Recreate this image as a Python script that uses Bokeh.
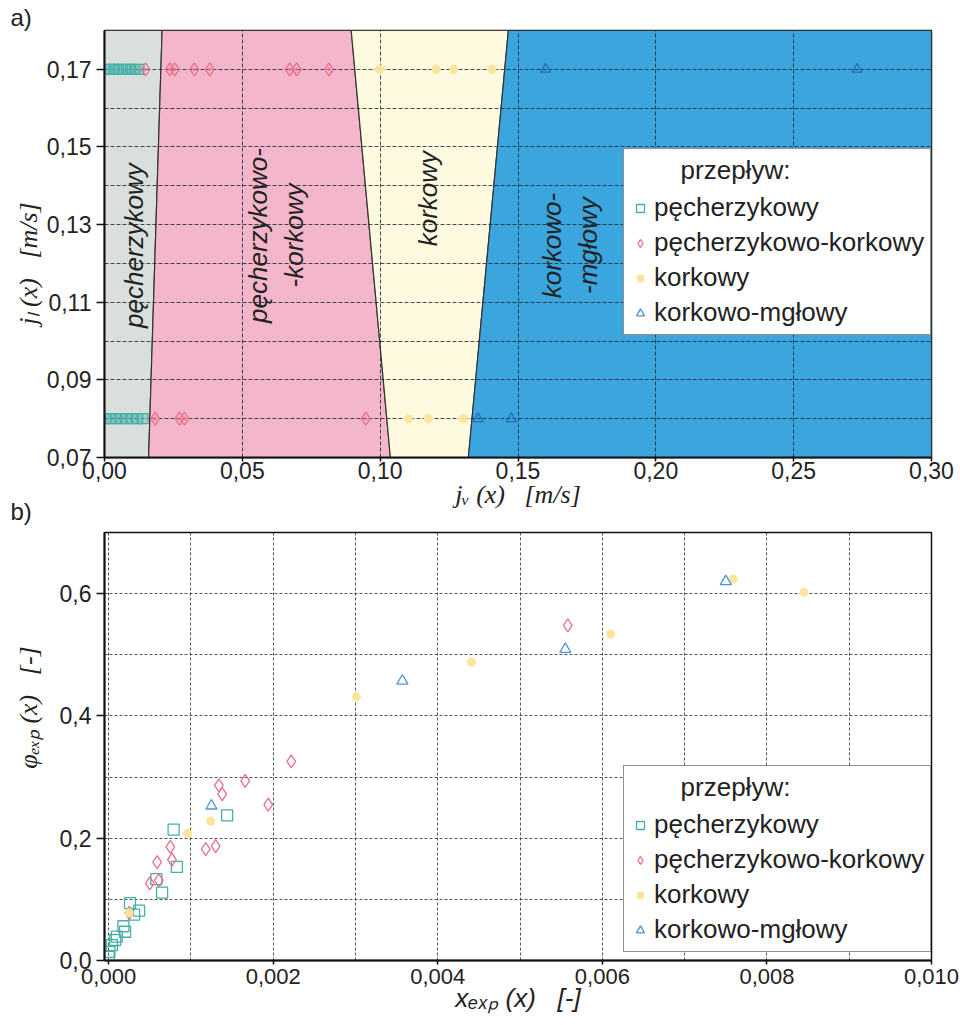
import math
import numpy as np
from bokeh.plotting import figure
from bokeh.models import (Range1d, FixedTicker, CustomJSTickFormatter, Label,
                          Legend, LegendItem, Title)
from bokeh.layouts import column
from bokeh.embed import file_html
from bokeh.resources import INLINE

# ---------------- panel a) data ----------------
a_x_ticks = [0.00, 0.05, 0.10, 0.15, 0.20, 0.25, 0.30]
a_y_ticks = [0.07, 0.09, 0.11, 0.13, 0.15, 0.17]
a_y_minor = [0.08, 0.10, 0.12, 0.14, 0.16, 0.18]
a_x_range = [0.0, 0.30]
a_y_range = [0.07, 0.18]

region_names = ["pęcherzykowy", "pęcherzykowo-\n-korkowy", "korkowy", "korkowo-\n-mgłowy"]
region_colors = ["#d9dfdc", "#f4b6ca", "#fdfadf", "#3ba5dd"]
boundary_x_bottom = [0.0160, 0.1037, 0.1320]   # at j_l = 0.07
boundary_x_top = [0.0209, 0.0895, 0.1465]      # at j_l = 0.18
region_label_x = [0.0106, 0.0623, 0.1175, 0.1688]
region_label_y = [0.1246, 0.1272, 0.1367, 0.1246]

a_pech_x = [0.0005, 0.0020, 0.0035, 0.0050, 0.0065, 0.0080, 0.0095, 0.0110, 0.0125,
            0.0005, 0.0020, 0.0040, 0.0060, 0.0080, 0.0100, 0.0120, 0.0140]
a_pech_y = [0.17, 0.17, 0.17, 0.17, 0.17, 0.17, 0.17, 0.17, 0.17,
            0.08, 0.08, 0.08, 0.08, 0.08, 0.08, 0.08, 0.08]
a_pk_x = [0.0149, 0.0237, 0.0255, 0.0326, 0.0382, 0.0672, 0.0697, 0.0814,
          0.0184, 0.0272, 0.0290, 0.0948]
a_pk_y = [0.17, 0.17, 0.17, 0.17, 0.17, 0.17, 0.17, 0.17,
          0.08, 0.08, 0.08, 0.08]
a_kork_x = [0.0998, 0.1203, 0.1267, 0.1405, 0.1104, 0.1175, 0.1302]
a_kork_y = [0.17, 0.17, 0.17, 0.17, 0.08, 0.08, 0.08]
a_km_x = [0.1600, 0.2730, 0.1355, 0.1476]
a_km_y = [0.17, 0.17, 0.08, 0.08]

# ---------------- panel b) data ----------------
b_x_ticks = [0.000, 0.002, 0.004, 0.006, 0.008, 0.010]
b_x_minor = [0.001, 0.003, 0.005, 0.007, 0.009]
b_y_ticks = [0.0, 0.2, 0.4, 0.6]
b_y_minor = [0.1, 0.3, 0.5, 0.7]
b_x_range = [-0.00005, 0.010]
b_y_range = [0.0, 0.7]

b_pech_x = [0.00144, 0.00079, 0.00083, 0.00058, 0.00065, 0.00026, 0.00037, 0.00031,
            0.00018, 0.00020, 0.00010, 0.00008, 0.00004, 0.00001, 0.00000]
b_pech_y = [0.2375, 0.214, 0.153, 0.133, 0.111, 0.094, 0.0815, 0.075,
            0.056, 0.047, 0.039, 0.0335, 0.025, 0.014, 0.006]
b_pk_x = [0.00194, 0.00222, 0.00166, 0.00134, 0.00138, 0.00075, 0.00118, 0.00130,
          0.00059, 0.00077, 0.00050, 0.00061, 0.00025, 0.00558]
b_pk_y = [0.255, 0.3256, 0.2937, 0.2865, 0.272, 0.186, 0.182, 0.187,
          0.161, 0.165, 0.126, 0.131, 0.078, 0.548]
b_kork_x = [0.00124, 0.00096, 0.00301, 0.00441, 0.00610, 0.00759, 0.00845, 0.00025]
b_kork_y = [0.228, 0.208, 0.431, 0.488, 0.534, 0.624, 0.602, 0.078]
b_km_x = [0.00125, 0.00357, 0.00555, 0.00750]
b_km_y = [0.253, 0.4573, 0.509, 0.620]

NB = "\u00a0"
legend_title = "przepływ:"
legend_labels = ["pęcherzykowy", "pęcherzykowo-korkowy", "korkowy", "korkowo-mgłowy"]
a_xlabel = "jᵥ (x)" + NB * 3 + "[m/s]"
a_ylabel = "jₗ (x)" + NB * 3 + "[m/s]" + NB * 6
b_xlabel = "xₑₓₚ (x)" + NB * 3 + "[-]"
b_ylabel = NB * 12 + "φₑₓₚ (x)" + NB * 3 + "[-]"

TEAL = "#45b0a8"
PINK = "#e8708a"
YELLOW = "#fbe49c"
BLUE = "#4f93d2"
BLUE_DARK = "#2a68b8"
SANS = "Liberation Sans"
SERIF = "Liberation Serif"
TXT = "#222222"
FRAME_RIGHT_BORDER = 29


def fmt(decimals):
    return CustomJSTickFormatter(args=dict(d=decimals), code="""
        return tick.toFixed(d).replace(".", ",");
    """)


def style(p, grid_color, dash):
    p.outline_line_color = "#111111"
    p.outline_line_width = 1.5
    for ax in (p.xaxis[0], p.yaxis[0]):
        ax.axis_line_width = 2
        ax.axis_line_color = "#111111"
        ax.major_tick_line_color = "#111111"
        ax.major_tick_line_width = 1.5
        ax.major_tick_in = 0
        ax.minor_tick_line_color = None
        ax.major_label_text_font = SANS
        ax.major_label_text_font_size = "23px"
        ax.major_label_text_color = TXT
        ax.axis_label_text_font_size = "26px"
        ax.axis_label_text_color = TXT
        ax.axis_label_text_font_style = "italic"
    for g in (p.xgrid[0], p.ygrid[0]):
        g.grid_line_color = grid_color
        g.grid_line_dash = dash
        g.grid_line_width = 1
        g.grid_line_alpha = 0.85
        g.minor_grid_line_color = grid_color
        g.minor_grid_line_dash = dash
        g.minor_grid_line_width = 1
        g.minor_grid_line_alpha = 0.85


def add_legend(p, loc):
    nan = np.array([np.nan])
    rs = [
        p.scatter(x=nan, y=nan, marker="square", size=9, line_color=TEAL, fill_color=None, line_width=1.3),
        p.scatter(x=nan, y=nan, marker="diamond", size=12, line_color=PINK, fill_color=None, line_width=1.3),
        p.scatter(x=nan, y=nan, marker="circle", size=9, line_color=None, fill_color=YELLOW),
        p.scatter(x=nan, y=nan, marker="triangle", size=10, angle=math.pi / 2, line_color=BLUE,
                  fill_color=None, line_width=1.3),
    ]
    leg = Legend(items=[LegendItem(label=l, renderers=[r]) for l, r in zip(legend_labels, rs)],
                 location=loc, title=NB * 7 + legend_title,
                 title_text_font=SANS, title_text_font_size="26px", title_standoff=6,
                 title_text_font_style="normal", title_text_color=TXT,
                 label_text_font=SANS, label_text_font_size="26px", label_text_color=TXT,
                 label_height=30, glyph_height=30, glyph_width=20, label_standoff=4,
                 spacing=4, padding=6, margin=0,
                 border_line_color="#222222", border_line_width=1.2,
                 background_fill_color="white", background_fill_alpha=1.0)
    p.add_layout(leg)


def letter(p, text, side, valign, standoff):
    p.add_layout(Title(text=text, align="left", offset=-94, standoff=standoff, text_font=SANS,
                       text_font_size="24px", text_font_style="normal", text_color=TXT,
                       vertical_align=valign), side)


# ================= panel a =================
pa = figure(width=960, height=530, output_backend="svg", toolbar_location=None,
            x_range=Range1d(*a_x_range), y_range=Range1d(*a_y_range),
            min_border_left=104, min_border_right=FRAME_RIGHT_BORDER,
            min_border_top=30, min_border_bottom=73,
            background_fill_color="white")
pa.xaxis.ticker = FixedTicker(ticks=a_x_ticks)
pa.yaxis.ticker = FixedTicker(ticks=a_y_ticks, minor_ticks=a_y_minor)
pa.xaxis.formatter = fmt(2)
pa.yaxis.formatter = fmt(2)
style(pa, "#262a40", "4 2")
pa.xaxis.major_tick_out = 4
pa.xaxis.major_label_standoff = 0
pa.yaxis.major_tick_out = 8
pa.yaxis.major_label_standoff = 5
pa.xaxis.axis_label = a_xlabel
pa.xaxis.axis_label_text_font = SERIF
pa.xaxis.axis_label_standoff = -2
pa.yaxis.axis_label = a_ylabel
pa.yaxis.axis_label_text_font = SERIF
pa.yaxis.axis_label_standoff = 1

lb = [a_x_range[0]] + boundary_x_bottom
rb = boundary_x_bottom + [a_x_range[1]]
lt = [a_x_range[0]] + boundary_x_top
rt = boundary_x_top + [a_x_range[1]]
xs = [[lb[i], rb[i], rt[i], lt[i]] for i in range(4)]
ys = [[a_y_range[0], a_y_range[0], a_y_range[1], a_y_range[1]] for _ in range(4)]
pa.patches(xs=xs, ys=ys, fill_color=region_colors, line_color="#333333", line_width=1.2,
           level="image")

for t, x, y in zip(region_names, region_label_x, region_label_y):
    pa.add_layout(Label(x=x, y=y, text=t, text_font=SANS, text_font_size="26px",
                        text_font_style="italic", angle=math.pi / 2, text_align="center",
                        text_baseline="middle", text_color=TXT))

pa.scatter(a_pech_x, a_pech_y, marker="square", size=10, line_color=TEAL, fill_color=TEAL,
           fill_alpha=0.35, line_width=1.2)
pa.scatter(a_pk_x, a_pk_y, marker="diamond_dot", size=13, line_color=PINK, fill_color=None,
           line_width=1.3)
pa.scatter(a_kork_x, a_kork_y, marker="circle", size=9, line_color=None, fill_color=YELLOW)
pa.scatter(a_km_x, a_km_y, marker="triangle", size=10, line_color=BLUE_DARK, fill_color=None,
           line_width=1.3)

add_legend(pa, (519, 122))
letter(pa, "a)", "above", "bottom", 0)
letter(pa, "b)", "below", "top", -28)

# ================= panel b =================
pb = figure(width=960, height=495, output_backend="svg", toolbar_location=None,
            x_range=Range1d(*b_x_range), y_range=Range1d(*b_y_range),
            min_border_left=104, min_border_right=FRAME_RIGHT_BORDER,
            min_border_top=2, min_border_bottom=65,
            background_fill_color="white")
pb.xaxis.ticker = FixedTicker(ticks=b_x_ticks, minor_ticks=b_x_minor)
pb.yaxis.ticker = FixedTicker(ticks=b_y_ticks, minor_ticks=b_y_minor)
pb.xaxis.formatter = fmt(3)
pb.yaxis.formatter = fmt(1)
style(pb, "#3a3a3a", "3 2")
pb.xaxis.major_label_text_font_size = "22px"
pb.xaxis.major_tick_out = 4
pb.xaxis.major_label_standoff = 4
pb.yaxis.major_tick_out = 8
pb.yaxis.major_label_standoff = 5
pb.xaxis.axis_label = b_xlabel
pb.xaxis.axis_label_text_font = SANS
pb.xaxis.axis_label_standoff = -4
pb.yaxis.axis_label = b_ylabel
pb.yaxis.axis_label_text_font = SERIF
pb.yaxis.axis_label_standoff = 14

pb.scatter(b_pech_x, b_pech_y, marker="square", size=11, line_color=TEAL, fill_color=None,
           line_width=1.3)
pb.scatter(b_pk_x, b_pk_y, marker="diamond", size=13, line_color=PINK, fill_color=None,
           line_width=1.3)
pb.scatter(b_kork_x, b_kork_y, marker="circle", size=9, line_color=None, fill_color=YELLOW)
pb.scatter(b_km_x, b_km_y, marker="triangle", size=11, line_color=BLUE, fill_color=None,
           line_width=1.3)

add_legend(pb, (519, 8))

layout = column(pa, pb, spacing=0)
open("out.html", "w").write(file_html(layout, INLINE))
